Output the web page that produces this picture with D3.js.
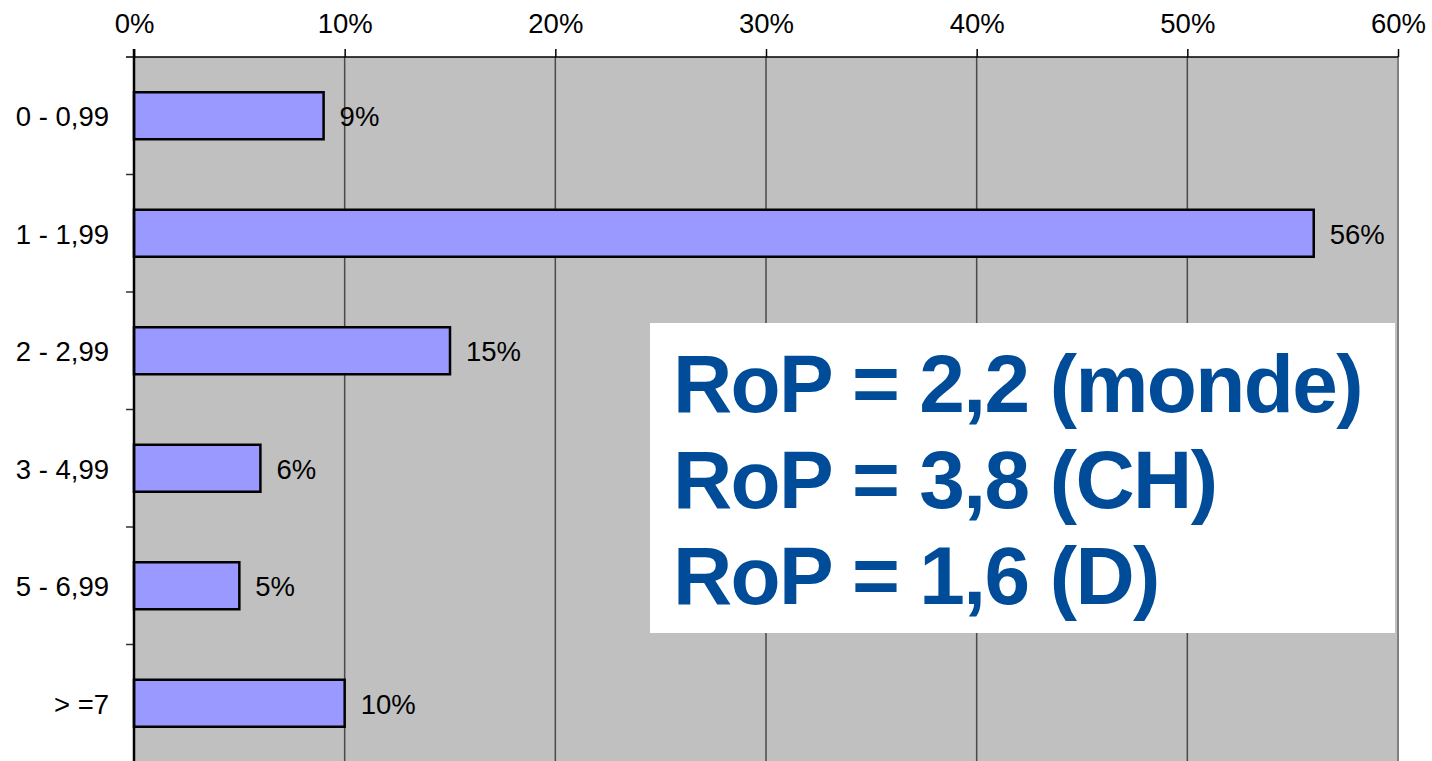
<!DOCTYPE html>
<html>
<head>
<meta charset="utf-8">
<script src="https://cdn.jsdelivr.net/npm/d3@7"></script>
<style>
  body { margin: 0; background: #fff; }
  svg { display: block; font-family: "Liberation Sans", Arial, sans-serif; }
</style>
</head>
<body>
<svg width="1432" height="761"></svg>
<script>
// chart data
var categories = ["0 - 0,99", "1 - 1,99", "2 - 2,99", "3 - 4,99", "5 - 6,99", "> =7"];
var values = [9, 56, 15, 6, 5, 10];
var xTicks = [0, 10, 20, 30, 40, 50, 60];
var noteLines = ["RoP = 2,2 (monde)", "RoP = 3,8 (CH)", "RoP = 1,6 (D)"];

var svg = d3.select("svg");

// plot area edges (note: "top" is taken by window.top)
var plotLeft = 134, plotRight = 1398, plotTop = 57, plotBottom = 762;
var labelSize = 27.5;

var x = d3.scaleLinear().domain([0, 60]).range([plotLeft, plotRight]);
var y = d3.scaleBand().domain(categories).range([plotTop, plotBottom])
    .paddingInner(0.6).paddingOuter(0.3);

// plot background
svg.append("rect")
    .attr("x", plotLeft).attr("y", plotTop)
    .attr("width", plotRight - plotLeft).attr("height", plotBottom - plotTop)
    .attr("fill", "#c0c0c0");

// vertical gridlines
svg.append("g").selectAll("line")
    .data(xTicks.slice(1, -1))
  .enter().append("line")
    .attr("x1", function(d) { return x(d); })
    .attr("x2", function(d) { return x(d); })
    .attr("y1", plotTop).attr("y2", plotBottom)
    .attr("stroke", "#4a4a4a")
    .attr("stroke-width", 1.5);

// right border
svg.append("line")
    .attr("x1", plotRight).attr("x2", plotRight)
    .attr("y1", plotTop).attr("y2", plotBottom)
    .attr("stroke", "#808080").attr("stroke-width", 2);

// bars
svg.append("g").selectAll("rect")
    .data(values)
  .enter().append("rect")
    .attr("x", x(0))
    .attr("y", function(d, i) { return y(categories[i]); })
    .attr("width", function(d) { return x(d) - x(0); })
    .attr("height", y.bandwidth())
    .attr("fill", "#9999ff")
    .attr("stroke", "#000")
    .attr("stroke-width", 2.5);

// value labels
svg.append("g").selectAll("text")
    .data(values)
  .enter().append("text")
    .attr("x", function(d) { return x(d) + 16; })
    .attr("y", function(d, i) { return y(categories[i]) + y.bandwidth() / 2 + 10.5; })
    .attr("font-size", labelSize)
    .attr("fill", "#000")
    .text(function(d) { return d + "%"; });

// top axis
var xAxis = svg.append("g")
    .attr("transform", "translate(0," + plotTop + ")")
    .call(d3.axisTop(x).tickValues(xTicks).tickSize(8).tickPadding(16)
      .tickFormat(function(d) { return d + "%"; }));
xAxis.select(".domain").attr("stroke", "#000").attr("stroke-width", 1.5)
    .attr("d", "M" + (plotLeft - 8) + ",0H" + plotRight);
xAxis.selectAll(".tick line").attr("stroke", "#000").attr("stroke-width", 1.5);
xAxis.selectAll(".tick text")
    .attr("font-size", labelSize)
    .attr("font-family", "Liberation Sans, Arial, sans-serif")
    .attr("fill", "#000");

// left axis (labels only; ticks drawn at band boundaries)
var yAxis = svg.append("g")
    .attr("transform", "translate(" + plotLeft + ",0)")
    .call(d3.axisLeft(y).tickSize(0).tickPadding(25));
yAxis.select(".domain").remove();
yAxis.selectAll(".tick text")
    .attr("dy", "0.38em")
    .attr("font-size", labelSize)
    .attr("font-family", "Liberation Sans, Arial, sans-serif")
    .attr("fill", "#000");

var boundaries = categories.slice(1).map(function(c) {
  return y(c) - y.step() * y.paddingInner() / 2;
});
svg.append("g").selectAll("line")
    .data(boundaries)
  .enter().append("line")
    .attr("x1", plotLeft - 8).attr("x2", plotLeft)
    .attr("y1", function(d) { return d; })
    .attr("y2", function(d) { return d; })
    .attr("stroke", "#333").attr("stroke-width", 1.5);

svg.append("line")
    .attr("x1", plotLeft).attr("x2", plotLeft)
    .attr("y1", plotTop - 8).attr("y2", plotBottom)
    .attr("stroke", "#000").attr("stroke-width", 2.5);

// note box
svg.append("rect")
    .attr("x", 650).attr("y", 323)
    .attr("width", 745).attr("height", 310)
    .attr("fill", "#fff");

svg.append("g").selectAll("text")
    .data(noteLines)
  .enter().append("text")
    .attr("x", 673)
    .attr("y", function(d, i) { return 411.5 + i * 96; })
    .attr("font-size", 82)
    .attr("font-weight", "bold")
    .attr("letter-spacing", "-1.6px")
    .attr("fill", "#004c99")
    .text(function(d) { return d; });
</script>
</body>
</html>
